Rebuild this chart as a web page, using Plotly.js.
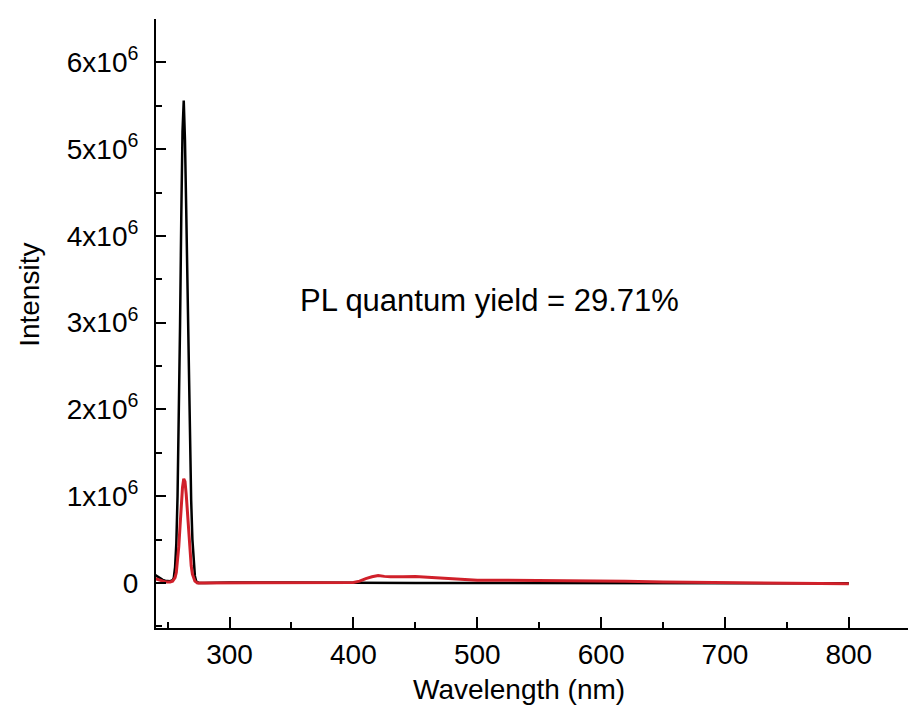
<!DOCTYPE html>
<html>
<head>
<meta charset="utf-8">
<script src="https://cdn.plot.ly/plotly-3.0.1.min.js"></script>
<style>html,body{margin:0;padding:0;background:#fff;}#chart{width:908px;height:723px;}</style>
</head>
<body>
<div id="chart"></div>
<script>
// Wavelength (nm) and intensities (units of 1e6)
const wlBlack = [240,242,244,246,248,250,252,254,255,256,257,258,259,260,261,262,263,264,265,266,267,268,269,270,271,272,273,275,280,300,350,400,450,500,550,600,650,700,750,800];
const intBlack = [0.09,0.07,0.05,0.035,0.025,0.02,0.02,0.03,0.06,0.18,0.45,1.0,1.85,2.95,4.2,5.2,5.56,5.1,4.3,3.4,2.45,1.6,0.95,0.5,0.22,0.08,0.02,0.0,0.0,0.005,0.005,0.0,0.0,0.0,0.0,0.0,0.0,0.0,0.0,-0.005];
const wlRed = [240,242,244,246,248,250,252,254,256,257,258,259,260,261,262,263,264,265,266,267,268,269,270,271,272,274,300,350,390,400,405,410,415,420,425,430,440,450,460,470,480,490,500,520,550,580,600,620,650,700,750,800];
const intRed = [0.05,0.04,0.03,0.02,0.012,0.01,0.01,0.02,0.06,0.12,0.25,0.42,0.65,0.9,1.1,1.2,1.17,1.02,0.8,0.56,0.35,0.2,0.1,0.05,0.02,0.0,0.0,0.0,0.0,0.005,0.02,0.05,0.07,0.085,0.075,0.07,0.07,0.075,0.065,0.055,0.045,0.035,0.03,0.03,0.028,0.025,0.022,0.02,0.01,0.003,0.0,-0.01];
const yTickVals = [0,1,2,3,4,5,6];
const yTickText = ["0","1x10<sup>6</sup>","2x10<sup>6</sup>","3x10<sup>6</sup>","4x10<sup>6</sup>","5x10<sup>6</sup>","6x10<sup>6</sup>"];
const xTickVals = [300,400,500,600,700,800];
const xTitle = 'Wavelength (nm)';
const yTitle = 'Intensity';
const annotationText = "PL quantum yield = 29.71%";

const scale = 1e6;
const traces = [
  {x: wlBlack, y: intBlack.map(v => v*scale), type: 'scatter', mode: 'lines', line: {color: '#000000', width: 2.5}, name: 'reference'},
  {x: wlRed, y: intRed.map(v => v*scale), type: 'scatter', mode: 'lines', line: {color: '#d0202a', width: 3}, name: 'sample'}
];
const fam = 'Liberation Sans, Arial, sans-serif';
const tf = {family: fam, size: 28, color: '#000'};
const layout = {
  width: 908, height: 723,
  margin: {l: 156, r: 0, t: 19, b: 95},
  paper_bgcolor: '#fff', plot_bgcolor: '#fff',
  showlegend: false,
  font: tf,
  xaxis: {
    range: [240.6, 847.8], showgrid: false, zeroline: false,
    showline: true, linecolor: '#000', linewidth: 2,
    ticks: 'inside', ticklen: 11, tickwidth: 2, tickcolor: '#000',
    tickvals: xTickVals, ticklabelstandoff: 0, tickfont: tf,
    minor: {dtick: 50, tick0: 0, ticks: 'inside', ticklen: 6, tickwidth: 2, tickcolor: '#000', showgrid: false}
  },
  yaxis: {
    range: [-0.52*scale, 6.5*scale], showgrid: false, zeroline: false,
    showline: true, linecolor: '#000', linewidth: 2,
    ticks: 'inside', ticklen: 10, tickwidth: 2, tickcolor: '#000',
    tickvals: yTickVals.map(v => v*scale), ticktext: yTickText, ticklabelstandoff: 10, tickfont: tf,
    minor: {dtick: 0.5*scale, tick0: 0, ticks: 'inside', ticklen: 6, tickwidth: 2, tickcolor: '#000', showgrid: false}
  },
  annotations: [
    {x: 510, y: 3.26*scale, xref: 'x', yref: 'y', text: annotationText, showarrow: false,
     font: {family: fam, size: 31, color: '#000'}},
    {x: 0.4827, y: -0.1018, xref: 'paper', yref: 'paper', xanchor: 'center', yanchor: 'middle',
     text: xTitle, showarrow: false, font: tf},
    {x: -0.1676, y: 0.547, xref: 'paper', yref: 'paper', xanchor: 'center', yanchor: 'middle',
     text: yTitle, textangle: -90, showarrow: false, font: tf}
  ]
};
Plotly.newPlot('chart', traces, layout, {displayModeBar: false});
</script>
</body>
</html>
